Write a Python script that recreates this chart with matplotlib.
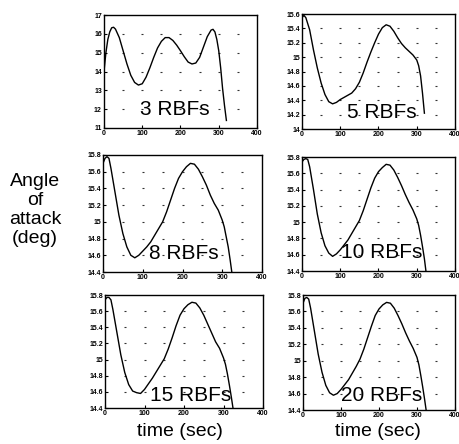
import matplotlib
matplotlib.use("Agg")
import matplotlib.pyplot as plt
import numpy as np

plt.rcParams['font.family'] = ['Liberation Sans', 'DejaVu Sans']

# ---- data ----
t1 = [0, 5, 10, 15, 20, 25, 30, 40, 50, 60, 70, 80, 90, 100, 110, 120, 130, 140, 150, 160,
      170, 180, 190, 200, 210, 220, 230, 240, 250, 260, 270, 280, 285, 290, 295, 300, 305, 310, 315, 320]
y1 = [14.0, 15.0, 15.7, 16.1, 16.32, 16.35, 16.25, 15.8, 15.1, 14.4, 13.8, 13.42, 13.28, 13.35, 13.7,
      14.2, 14.75, 15.25, 15.6, 15.8, 15.8, 15.65, 15.4, 15.1, 14.78, 14.5, 14.4, 14.45, 14.75, 15.3,
      15.85, 16.2, 16.24, 16.1, 15.7, 15.1, 14.2, 13.1, 12.2, 11.4]

t2 = [0, 5, 10, 20, 30, 40, 50, 60, 70, 80, 90, 100, 110, 120, 130, 140, 150, 160, 170, 180, 190,
      200, 210, 220, 230, 240, 250, 260, 270, 280, 290, 300, 305, 310, 315, 320]
y2 = [15.55, 15.58, 15.55, 15.38, 15.10, 14.85, 14.64, 14.48, 14.38, 14.35, 14.37, 14.41, 14.44, 14.47,
      14.50, 14.56, 14.65, 14.78, 14.93, 15.07, 15.2, 15.32, 15.41, 15.45, 15.43, 15.36, 15.27, 15.19,
      15.13, 15.08, 15.03, 14.96, 14.88, 14.74, 14.5, 14.22]

t3 = [0, 5, 10, 15, 20, 30, 40, 50, 60, 70, 80, 90, 100, 110, 120, 130, 140, 150, 160, 170, 180,
      190, 200, 210, 220, 230, 240, 250, 260, 270, 280, 290, 300, 305, 310, 315, 320, 324]
y3 = [15.70, 15.76, 15.78, 15.76, 15.64, 15.36, 15.08, 14.86, 14.70, 14.60, 14.57, 14.60, 14.65, 14.70,
      14.76, 14.84, 14.92, 15.00, 15.12, 15.26, 15.40, 15.52, 15.60, 15.66, 15.70, 15.69, 15.63, 15.54,
      15.44, 15.32, 15.22, 15.14, 15.02, 14.94, 14.82, 14.70, 14.54, 14.40]

t4 = t3
y4 = [15.74, 15.77, 15.78, 15.77, 15.68, 15.40, 15.10, 14.87, 14.71, 14.62, 14.58, 14.61, 14.66, 14.72,
      14.78, 14.86, 14.94, 15.02, 15.14, 15.28, 15.42, 15.54, 15.62, 15.67, 15.71, 15.70, 15.64, 15.55,
      15.45, 15.34, 15.24, 15.15, 15.04, 14.96, 14.84, 14.70, 14.55, 14.40]

t5 = t3
y5 = [15.74, 15.77, 15.77, 15.74, 15.62, 15.34, 15.06, 14.84, 14.69, 14.61, 14.59, 14.58, 14.63, 14.70,
      14.77, 14.85, 14.93, 15.01, 15.13, 15.27, 15.42, 15.55, 15.63, 15.68, 15.71, 15.70, 15.64, 15.55,
      15.44, 15.33, 15.22, 15.14, 15.02, 14.94, 14.82, 14.68, 14.53, 14.40]

t6 = t3
y6 = [15.70, 15.76, 15.77, 15.75, 15.64, 15.36, 15.08, 14.86, 14.70, 14.61, 14.58, 14.60, 14.65, 14.71,
      14.77, 14.85, 14.93, 15.02, 15.14, 15.28, 15.42, 15.55, 15.63, 15.68, 15.71, 15.70, 15.64, 15.55,
      15.45, 15.34, 15.24, 15.15, 15.04, 14.95, 14.82, 14.68, 14.53, 14.40]

labels = ["3 RBFs", "5 RBFs", "8 RBFs", "10 RBFs", "15 RBFs", "20 RBFs"]

x_ticks = [0, 100, 200, 300, 400]
x_grid = [50, 100, 150, 200, 250, 300, 350]
yt1 = [11, 12, 13, 14, 15, 16, 17]
ytl1 = ["11", "12", "13", "14", "15", "16", "17"]
yt2 = [14.0, 14.2, 14.4, 14.6, 14.8, 15.0, 15.2, 15.4, 15.6]
ytl2 = ["14", "14.2", "14.4", "14.6", "14.8", "15", "15.2", "15.4", "15.6"]
yt3 = [14.4, 14.6, 14.8, 15.0, 15.2, 15.4, 15.6, 15.8]
ytl3 = ["14.4", "14.6", "14.8", "15", "15.2", "15.4", "15.6", "15.8"]

panels = [
    (t1, y1, yt1, ytl1, labels[0]),
    (t2, y2, yt2, ytl2, labels[1]),
    (t3, y3, yt3, ytl3, labels[2]),
    (t4, y4, yt3, ytl3, labels[3]),
    (t5, y5, yt3, ytl3, labels[4]),
    (t6, y6, yt3, ytl3, labels[5]),
]

# positions (pixels from top-left)
W, H = 460, 444
rects = [
    (104, 15, 153, 113), (302, 14, 153, 115),
    (103, 155, 159, 117), (302, 157, 153, 114),
    (105, 295, 158, 113), (303, 295, 152, 115),
]
text_pos = [(0.46, 0.16), (0.52, 0.14), (0.51, 0.16), (0.52, 0.16), (0.54, 0.11), (0.52, 0.13)]

fig = plt.figure(figsize=(W / 100, H / 100), dpi=100)
fig.patch.set_facecolor('white')

for (t, y, yt, ytl, lab), (px, py, pw, ph), (tx, ty) in zip(panels, rects, text_pos):
    ax = fig.add_axes([px / W, 1 - (py + ph) / H, pw / W, ph / H])
    ax.set_xlim(0, 400)
    ax.set_ylim(yt[0], yt[-1])
    ax.set_xticks(x_ticks)
    ax.set_xticklabels([str(v) for v in x_ticks])
    ax.set_yticks(yt)
    ax.set_yticklabels(ytl)
    ax.tick_params(direction='in', length=2, width=0.8, labelsize=5, pad=1.5)
    for lbl in ax.get_xticklabels() + ax.get_yticklabels():
        lbl.set_fontweight('bold')
    for s in ax.spines.values():
        s.set_linewidth(1.0)
    gx, gy = np.meshgrid(x_grid, yt[1:-1])
    ax.scatter(gx.ravel(), gy.ravel(), marker='_', s=4, color='#333333', linewidths=0.8, zorder=1)
    ax.plot(t, y, color='black', linewidth=1.0, zorder=3)
    ax.text(tx, ty, lab, transform=ax.transAxes, ha='center', va='center',
            fontsize=15, color='black', zorder=4)

fig.text(35 / W, 1 - 210 / H, "Angle\nof\nattack\n(deg)", ha='center', va='center',
         fontsize=14, linespacing=1.15)
fig.text(180 / W, 1 - 431 / H, "time (sec)", ha='center', va='center', fontsize=14)
fig.text(378 / W, 1 - 431 / H, "time (sec)", ha='center', va='center', fontsize=14)

fig.savefig("out.png", dpi=100, facecolor='white')
